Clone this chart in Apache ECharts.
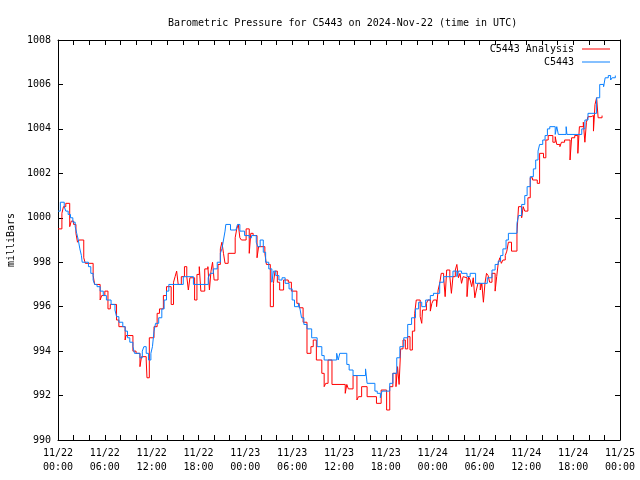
<!DOCTYPE html>
<html>
<head>
<meta charset="utf-8">
<script src="https://cdn.jsdelivr.net/npm/echarts@6/dist/echarts.min.js"></script>
<style>html,body{margin:0;padding:0;background:#fff;}#c{width:640px;height:480px;}</style>
</head>
<body>
<div id="c"></div>
<script>
const xTickLabels = ['11/22\n00:00','11/22\n06:00','11/22\n12:00','11/22\n18:00','11/23\n00:00','11/23\n06:00','11/23\n12:00','11/23\n18:00','11/24\n00:00','11/24\n06:00','11/24\n12:00','11/24\n18:00','11/25\n00:00'];
const seriesNames = ['C5443 Analysis', 'C5443'];

// hours since 11/22 00:00 UTC, pressure in mb
const stationHours = [0.0,0.3,0.8,1.0,1.3,1.6,1.9,2.2,2.4,2.6,2.8,3.0,3.1,3.9,4.2,4.5,4.7,5.0,5.4,5.8,6.2,6.8,7.3,7.5,7.8,8.3,8.6,8.9,9.2,9.6,9.8,10.5,10.8,11.0,11.3,11.6,11.9,12.1,12.3,12.5,12.9,13.3,13.6,13.9,14.2,16.05,17.35,19.25,19.5,19.9,20.4,20.8,21.0,21.2,21.4,21.5,22.1,22.8,23.0,23.3,23.9,24.5,24.8,25.4,25.6,25.9,26.3,26.6,27.0,27.4,27.6,27.9,28.3,28.7,29.1,29.6,30.0,30.3,30.8,31.0,31.2,31.5,31.9,32.5,33.2,33.8,34.1,35.7,35.9,36.1,37.0,37.3,37.8,39.4,39.6,40.6,40.9,41.3,41.5,42.5,42.9,43.4,43.8,44.3,44.8,45.3,45.8,46.2,46.6,47.1,47.7,48.1,48.9,49.4,50.6,51.1,51.3,51.7,52.4,52.8,53.5,55.0,55.6,56.0,56.4,56.7,57.0,57.4,57.7,58.8,59.0,59.4,59.8,60.1,60.5,60.9,61.2,61.5,61.7,62.1,62.4,62.7,63.0,63.7,63.9,64.1,65.1,65.2,67.1,67.5,67.9,69.0,69.4,69.9,70.1,70.5,70.8,71.0,71.4];
const stationValues = [1000.3,1000.7,1000.5,1000.3,1000.15,1000.0,999.8,999.6,999.3,999.0,998.6,998.3,998.0,997.8,997.5,997.2,997.0,996.9,996.7,996.5,996.3,996.1,995.85,995.55,995.3,995.1,994.9,994.6,994.4,994.2,993.9,993.7,994.0,994.2,993.9,993.6,993.9,994.2,994.9,995.25,995.5,995.9,996.3,996.7,997.0,997.35,997.0,997.3,997.5,997.7,998.0,998.4,998.6,999.0,999.4,999.7,999.45,999.5,999.7,999.4,999.2,999.1,999.2,998.9,998.7,999.0,998.45,998.0,997.7,997.1,997.6,997.4,997.2,997.3,997.05,996.8,996.3,996.0,996.15,995.9,995.5,995.2,995.0,994.6,994.2,993.8,993.6,993.9,993.6,993.9,993.4,993.15,992.9,993.2,992.55,992.2,992.1,991.9,992.2,992.55,993.0,993.7,994.2,994.6,995.2,995.5,995.9,996.2,996.0,996.3,996.5,996.6,997.1,997.35,997.6,997.35,997.6,997.5,997.35,997.5,997.05,997.3,997.65,997.9,998.05,998.3,998.6,999.0,999.3,999.75,1000.1,1000.6,1001.0,1001.4,1001.85,1002.2,1002.6,1003.0,1003.3,1003.5,1003.7,1004.0,1004.1,1003.75,1004.1,1003.75,1004.1,1003.75,1004.0,1004.4,1004.7,1005.4,1006.0,1005.9,1006.3,1006.4,1006.2,1006.3,1006.4];

const analysisHours = [0.0,0.5,0.7,1.0,1.5,1.7,2.0,2.3,2.5,2.7,3.3,3.5,4.5,4.7,5.4,5.6,6.0,6.4,6.7,7.5,7.8,8.6,8.7,9.6,10.0,10.5,10.7,11.3,11.4,11.7,12.3,12.7,13.0,13.5,13.9,14.5,14.8,15.0,15.2,15.4,15.8,16.2,16.5,16.7,16.9,17.5,17.8,18.1,18.3,18.8,19.2,19.4,19.6,19.8,20.0,20.5,20.8,21.0,21.2,21.4,21.8,22.7,22.9,23.1,23.3,23.5,24.1,24.5,24.7,25.0,25.5,25.7,26.5,26.7,27.2,27.6,27.8,28.1,28.4,28.9,29.5,29.9,30.6,30.9,31.4,31.9,32.4,32.7,33.1,33.8,34.1,34.3,34.6,35.1,36.8,37.0,37.2,37.8,38.3,38.5,38.9,39.6,40.8,41.4,42.1,42.5,42.9,43.3,43.5,43.7,43.9,44.2,44.5,44.8,45.1,45.4,45.7,45.9,46.4,46.6,46.7,47.2,47.4,47.7,47.9,48.1,48.5,48.7,48.9,49.1,49.4,49.6,49.8,50.2,50.4,50.6,50.9,51.1,51.3,51.5,51.7,51.9,52.1,52.4,52.6,52.8,53.0,53.2,53.4,53.6,53.8,54.1,54.3,54.5,54.7,54.9,55.1,55.3,55.6,56.0,56.2,56.4,56.6,56.8,57.0,57.3,57.5,57.7,58.1,58.8,59.0,59.4,59.6,59.8,60.2,60.5,60.8,61.4,61.7,62.2,62.5,62.8,63.4,63.7,63.9,64.3,64.5,64.9,65.6,65.8,66.2,66.6,66.8,67.3,67.5,67.7,67.9,68.3,68.6,68.8,69.0,69.2,69.7];
const analysisValues = [999.5,1000.2,1000.5,1000.65,999.6,999.85,999.7,999.3,998.9,999.0,998.2,997.95,997.4,997.0,996.3,996.5,996.7,995.9,996.1,995.4,995.1,994.5,994.7,994.0,993.9,993.3,993.75,993.6,992.8,994.6,995.1,995.7,995.9,996.5,996.9,996.1,997.1,997.35,997.6,997.0,997.35,997.8,997.35,996.75,997.3,996.3,997.45,997.8,996.7,997.7,997.8,996.75,997.6,998.0,997.2,997.9,998.6,998.9,998.4,997.95,998.4,999.1,999.5,999.7,999.1,999.0,999.5,998.4,999.3,999.2,998.2,998.7,998.4,997.9,996.0,997.05,997.6,997.1,996.75,997.2,997.1,996.7,996.15,995.95,995.3,993.9,994.2,994.5,993.6,993.0,992.4,992.55,993.6,992.5,992.1,992.5,992.3,992.9,991.8,991.95,992.4,991.95,991.65,992.25,991.35,992.4,993.0,992.4,993.3,992.5,994.1,994.5,994.1,994.65,994.05,994.9,995.7,996.3,995.55,995.25,995.85,996.15,996.3,995.8,996.15,996.3,996.0,996.75,997.05,997.5,997.35,996.45,997.65,997.35,996.6,997.35,997.65,997.9,997.3,997.5,997.05,997.35,997.3,996.45,997.35,997.2,996.9,997.3,996.4,996.75,997.05,996.75,997.05,996.2,997.05,997.5,997.4,997.1,997.5,996.7,997.35,997.95,998.2,997.95,998.1,998.3,998.5,998.9,998.5,999.3,1000.5,1000.0,1000.5,1000.3,1000.9,1001.8,1001.7,1001.55,1002.9,1002.7,1003.5,1003.7,1003.4,1003.65,1003.3,1003.2,1003.4,1003.5,1002.6,1003.6,1003.7,1002.9,1004.1,1004.3,1003.4,1004.3,1004.55,1004.6,1003.9,1005.1,1005.4,1004.5,1004.6];

const FONT = '"DejaVu Sans Mono", "Liberation Mono", monospace';
const pair = (hs, vs) => hs.map((h, i) => [h, vs[i]]);

const chart = echarts.init(document.getElementById('c'), null, {renderer: 'canvas'});
const tickStyle = {show: true, inside: true, length: 5, lineStyle: {color: '#000', width: 1}};
const axLine = {show: true, onZero: false, lineStyle: {color: '#000', width: 1}};
chart.setOption({
  animation: false,
  backgroundColor: '#fff',
  title: {
    text: 'Barometric Pressure for C5443 on 2024-Nov-22 (time in UTC)',
    left: 163, top: 13,
    textStyle: {fontFamily: FONT, fontSize: 10, fontWeight: 'normal', color: '#000'}
  },
  legend: [
    {data: [seriesNames[0]], right: 30, top: 44, orient: 'vertical', align: 'right', icon: 'rect', itemWidth: 28, itemHeight: 1, padding: 0,
     textStyle: {fontFamily: FONT, fontSize: 10, color: '#000', padding: [0, 3, 0, 0]}},
    {data: [seriesNames[1]], right: 30, top: 57, orient: 'vertical', align: 'right', icon: 'rect', itemWidth: 28, itemHeight: 1, padding: 0,
     textStyle: {fontFamily: FONT, fontSize: 10, color: '#000', padding: [0, 3, 0, 0]}}
  ],
  grid: {left: 58, right: 20, top: 40, bottom: 40, containLabel: false, outerBoundsMode: 'none'},
  xAxis: [
    {type: 'value', min: 0, max: 72, interval: 2, position: 'bottom',
     axisLine: axLine, axisTick: tickStyle, splitLine: {show: false},
     axisLabel: {margin: 6, fontFamily: FONT, fontSize: 10, color: '#000', lineHeight: 14,
       showMinLabel: true, showMaxLabel: true,
       formatter: v => (Math.round(v) % 6 === 0 ? xTickLabels[Math.round(v) / 6] : '')}},
    {type: 'value', min: 0, max: 72, interval: 2, position: 'top',
     axisLine: axLine, axisTick: tickStyle, splitLine: {show: false}, axisLabel: {show: false}}
  ],
  yAxis: [
    {type: 'value', min: 990, max: 1008, interval: 2, position: 'left',
     name: 'milliBars', nameLocation: 'middle', nameGap: 41, nameRotate: 90,
     nameTextStyle: {fontFamily: FONT, fontSize: 10, color: '#000'},
     axisLine: axLine, axisTick: tickStyle, splitLine: {show: false},
     axisLabel: {margin: 7, fontFamily: FONT, fontSize: 10, color: '#000', formatter: v => String(v)}},
    {type: 'value', min: 990, max: 1008, interval: 2, position: 'right',
     axisLine: axLine, axisTick: tickStyle, splitLine: {show: false}, axisLabel: {show: false}}
  ],
  series: [
    {name: seriesNames[0], type: 'line', step: 'end', showSymbol: false, symbol: 'none',
     color: '#ff0000', lineStyle: {width: 1, color: '#ff0000'},
     data: pair(analysisHours, analysisValues)},
    {name: seriesNames[1], type: 'line', step: 'end', showSymbol: false, symbol: 'none',
     color: '#0a80ff', lineStyle: {width: 1, color: '#0a80ff'},
     data: pair(stationHours, stationValues)}
  ]
});
</script>
</body>
</html>
